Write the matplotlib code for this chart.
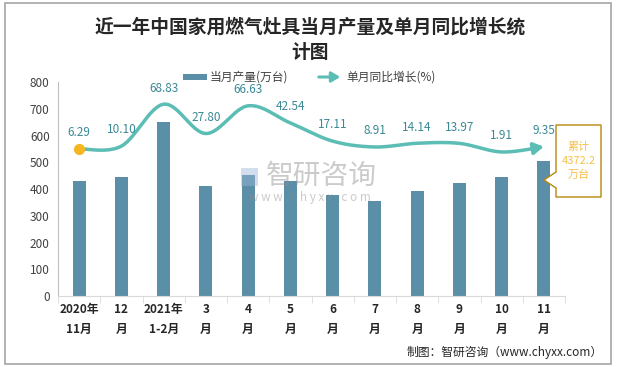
import numpy as np
import matplotlib
matplotlib.use("Agg")
import matplotlib.pyplot as plt
from matplotlib.patches import Rectangle, Polygon, FancyArrowPatch

plt.rcParams['font.family'] = ['Noto Sans CJK SC', 'DejaVu Sans']

# data
months = ["2020年\n11月", "12\n月", "2021年\n1-2月", "3\n月", "4\n月", "5\n月",
          "6\n月", "7\n月", "8\n月", "9\n月", "10\n月", "11\n月"]
output = [431, 443, 649, 412, 451, 431, 378, 356, 393, 423, 446, 506]
growth = [6.29, 10.10, 68.83, 27.80, 66.63, 42.54, 17.11, 8.91, 14.14, 13.97, 1.91, 9.35]
y_ticks = [0, 100, 200, 300, 400, 500, 600, 700, 800]
total_label = "累计\n4372.2\n万台"

bar_color = "#5B8FA7"
line_color = "#5CBDB5"
label_color = "#3A8995"

W, H = 619, 367
fig = plt.figure(figsize=(W / 100, H / 100), dpi=100)

def fx(px):
    return px / W

def fy(py):
    return 1 - py / H

# outer frame
fig.patches.append(Rectangle((fx(5), fy(364)), fx(606), 361 / H, transform=fig.transFigure,
                             fill=False, edgecolor="#A6A6A6", lw=1.2))

ax = fig.add_axes([fx(58), fy(296), fx(565) - fx(58), (296 - 82) / H])
x = np.arange(len(months))

# semi-transparent watermark
fig.text(fx(266), fy(176), "智研咨询", fontsize=20, color="#8C8C8C", alpha=0.45,
         ha="left", va="center")
fig.text(fx(310), fy(197), "w w w . c h y x x . c o m", fontsize=8.5,
         color="#8C8C8C", alpha=0.45, ha="center", va="center")
fig.patches.append(Rectangle((fx(241), fy(186)), fx(17), 18 / H, transform=fig.transFigure,
                             facecolor="#9DB7DA", alpha=0.45, edgecolor="none"))

ax.bar(x, output, width=0.31, color=bar_color, zorder=2)
ax.set_xlim(-0.5, len(months) - 0.5)
ax.set_ylim(0, 800)
ax.set_yticks(y_ticks)
ax.set_yticklabels([str(v) for v in y_ticks], fontsize=8.5, color="#404040")
ax.set_xticks(x)
ax.set_xticklabels(months, fontsize=8.5, fontweight="bold", color="#262626", linespacing=1.7)
ax.set_xticks(np.arange(-0.5, len(months), 1), minor=True)
ax.tick_params(axis="x", which="major", length=0, pad=5)
ax.tick_params(axis="x", which="minor", length=5, color="#D9D9D9")
ax.tick_params(axis="y", length=0, pad=6)
for s in ["top", "right"]:
    ax.spines[s].set_visible(False)
ax.spines["left"].set_color("#BFBFBF")
ax.spines["bottom"].set_color("#D9D9D9")

# growth line on a hidden secondary axis
ax2 = ax.twinx()
ax2.set_ylim(-200, 100)
ax2.axis("off")

def catmull_rom(xs, ys, n=30):
    px = np.concatenate([[xs[0]], xs, [xs[-1]]])
    py = np.concatenate([[ys[0]], ys, [ys[-1]]])
    out_x, out_y = [], []
    for i in range(1, len(px) - 2):
        t = np.linspace(0, 1, n, endpoint=False)
        for arr, out in ((px, out_x), (py, out_y)):
            p0, p1, p2, p3 = arr[i - 1], arr[i], arr[i + 1], arr[i + 2]
            out.extend(0.5 * (2 * p1 + (-p0 + p2) * t + (2 * p0 - 5 * p1 + 4 * p2 - p3) * t ** 2
                              + (-p0 + 3 * p1 - 3 * p2 + p3) * t ** 3))
    out_x.append(xs[-1])
    out_y.append(ys[-1])
    return np.array(out_x), np.array(out_y)

sx, sy = catmull_rom(x.astype(float), np.array(growth))
cut = len(sx) - 8
ax2.plot(sx[:cut + 1], sy[:cut + 1], color=line_color, lw=2.5, solid_capstyle="round", zorder=3)
ax2.annotate("", xy=(sx[-1], sy[-1]), xytext=(sx[cut], sy[cut]),
             arrowprops=dict(arrowstyle="-|>,head_length=0.6,head_width=0.35",
                             color=line_color, lw=2.5, shrinkA=0, shrinkB=0), zorder=3)
ax2.plot([x[0]], [growth[0]], "o", color="#F5B622", ms=7, zorder=4)
for xi, g in zip(x, growth):
    ax2.annotate(f"{g:.2f}", (xi, g), xytext=(0, 7), textcoords="offset points",
                 ha="center", va="bottom", fontsize=8.5, color=label_color, zorder=5)

# callout box for the total
box = Polygon([[fx(556), fy(125)], [fx(601), fy(125)], [fx(601), fy(197)], [fx(556), fy(197)],
               [fx(556), fy(188)], [fx(544), fy(180)], [fx(556), fy(172)]],
              closed=True, transform=fig.transFigure, facecolor="white",
              edgecolor="#B8860B", lw=1.0, zorder=10)
fig.patches.append(box)
fig.text(fx(578.5), fy(161), total_label, ha="center", va="center", fontsize=8,
         color="#F5C04A", linespacing=1.4, zorder=11)

# title
fig.text(fx(310), fy(27), "近一年中国家用燃气灶具当月产量及单月同比增长统", ha="center", va="center",
         fontsize=13.5, fontweight="bold", color="#262626")
fig.text(fx(310), fy(52), "计图", ha="center", va="center",
         fontsize=13.5, fontweight="bold", color="#262626")

# legend drawn by hand
fig.patches.append(Rectangle((fx(183), fy(80)), fx(24), 6 / H, transform=fig.transFigure,
                             facecolor=bar_color, edgecolor="none"))
fig.text(fx(210), fy(77), "当月产量(万台)", ha="left", va="center", fontsize=8.5, color="#404040")
fig.patches.append(FancyArrowPatch(
    (fx(316), fy(77)), (fx(343), fy(77)), transform=fig.transFigure,
    arrowstyle="-|>,head_length=0.5,head_width=0.3", color=line_color, lw=2.2,
    mutation_scale=10))
fig.text(fx(346), fy(77), "单月同比增长(%)", ha="left", va="center", fontsize=8.5, color="#404040")

# source
fig.text(fx(603), fy(352), "制图：智研咨询（www.chyxx.com）", ha="right", va="center",
         fontsize=8.5, color="#262626")

fig.savefig("out.png", dpi=100)
